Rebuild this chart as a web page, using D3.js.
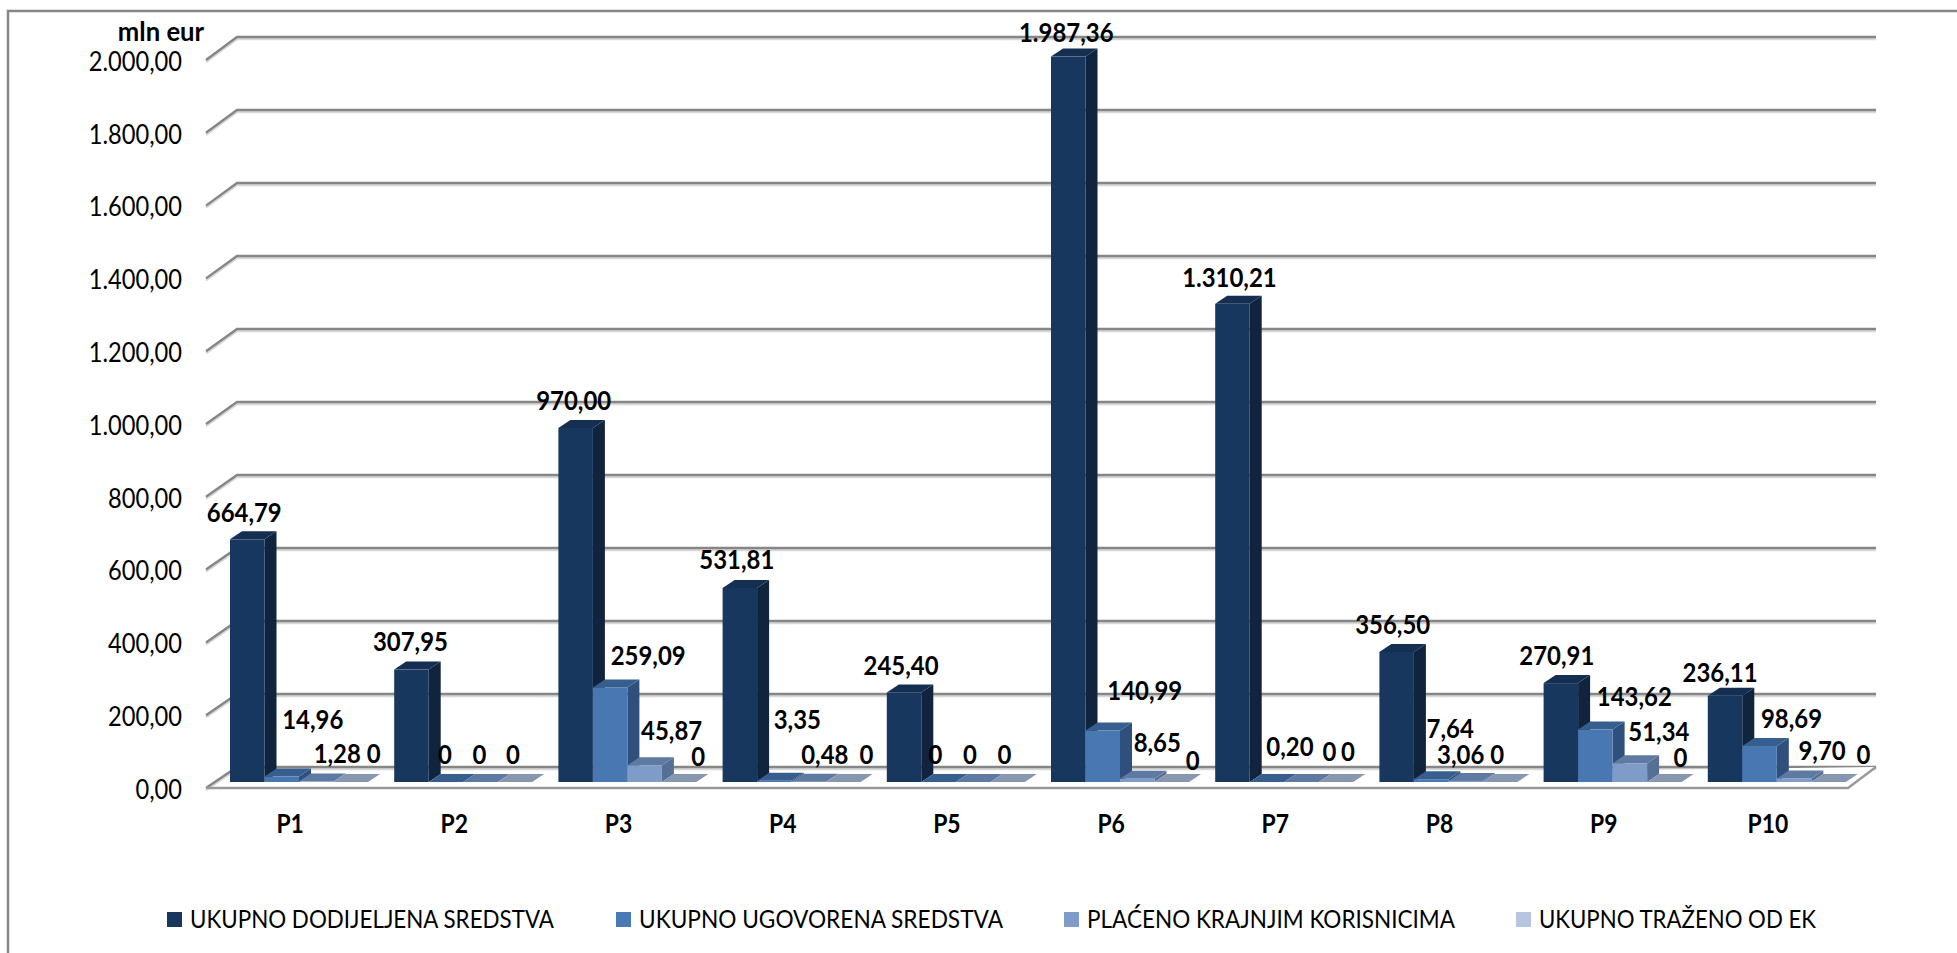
<!DOCTYPE html>
<html>
<head>
<meta charset="utf-8">
<script src="https://cdn.jsdelivr.net/npm/d3@7"></script>
<style>
body { margin: 0; background: #fff; }
text { font-family: Lato, "Noto Sans", sans-serif; fill: #000; }
.domain { display: none; }
</style>
</head>
<body>
<div id="chart"></div>
<script>
const categories = ["P1", "P2", "P3", "P4", "P5", "P6", "P7", "P8", "P9", "P10"];
const series = ["UKUPNO DODIJELJENA SREDSTVA", "UKUPNO UGOVORENA SREDSTVA", "PLAĆENO KRAJNJIM KORISNICIMA", "UKUPNO TRAŽENO OD EK"];
const dodijeljeno = [664.79, 307.95, 970.00, 531.81, 245.40, 1987.36, 1310.21, 356.50, 270.91, 236.11];
const ugovoreno = [14.96, 0, 259.09, 3.35, 0, 140.99, 0.20, 7.64, 143.62, 98.69];
const placeno = [1.28, 0, 45.87, 0.48, 0, 8.65, 0, 3.06, 51.34, 9.70];
const trazeno = [0, 0, 0, 0, 0, 0, 0, 0, 0, 0];
const yTicks = [0, 200, 400, 600, 800, 1000, 1200, 1400, 1600, 1800, 2000];

// front, side, top colours per series
const colors = [
    ["#17375e", "#10243e", "#142f52"],
    ["#4877b2", "#2f4f7c", "#365f8f"],
    ["#7f9cc9", "#566f94", "#5e7aa3"],
    ["#b7c5e0", "#7c8aa8", "#8897b0"]
];
const legendSwatch = ["#17375e", "#4a7ab5", "#7f9cc9", "#b7c5e0"];
const legendX = [167, 616, 1064, 1516];
const legendWidth = [364, 364, 368, 277];

// labels were placed by hand in the original, [dx, dy] from the default spot over each bar
const labelNudge = [
    [[-9, -6], [25, -37], [15, -8], [17, -8]],
    [[-7, -8], [-7, -7], [-7, -7], [-8, -7]],
    [[-8, -7], [32, -12], [21, -14], [13, -5]],
    [[-9, -8], [17, -41], [10, -7], [17, -7]],
    [[-9, -7], [-9, -7], [-9, -7], [-9, -7]],
    [[-8, -4], [36, -20], [14, -16], [15, -1]],
    [[-9, -6], [17, -15], [22, -10], [6, -10]],
    [[-10, -7], [13, -30], [-11, -6], [-9, -7]],
    [[-10, -7], [33, -13], [23, -11], [10, -4]],
    [[-11, -3], [26, -7], [22, -8], [29, -7]]
];

const width = 1957, height = 953;
const left = 206, right = 1848;
const wallDx = 30, wallDy = 22;
const barDx = 12, barDy = 8;

const values = [dodijeljeno, ugovoreno, placeno, trazeno];

let svg = d3.select("#chart")
    .append("svg")
    .attr("width", width)
    .attr("height", height)
    .style("display", "block");

let hr = d3.formatLocale({ decimal: ",", thousands: ".", grouping: [3], currency: ["", " EUR"] });
let fmt = hr.format(",.2f");

let x0 = d3.scaleBand().domain(categories).range([left, right]);
let x1 = d3.scaleBand().domain(d3.range(series.length)).range([24, 162]);
let yBar = d3.scaleLinear().domain([0, 2000]).range([782, 52]);
let yFront = d3.scaleLinear().domain([0, 2000]).range([788, 60]);
let yWall = d3.scaleLinear().domain([0, 2000]).range([767, 37]);

// the original font is narrower than Lato, so squeeze it a bit
function squeeze(sel, k) {
    sel.each(function() {
        d3.select(this)
            .attr("textLength", this.getComputedTextLength() * k)
            .attr("lengthAdjust", "spacingAndGlyphs");
    });
}

// outer frame
svg.append("path")
    .attr("d", `M${width},11H8V${height}`)
    .attr("fill", "none")
    .attr("stroke", "#868686")
    .attr("stroke-width", 2.5);

// walls
let grid = svg.append("g");
[["#d8d8d8", 2], ["#868686", 0]].forEach(function(st) {
    grid.append("g").selectAll("path").data(yTicks).enter()
        .append("path")
        .attr("d", d => `M${left},${yFront(d) + st[1]}L${left + wallDx + 1},${yWall(d) + st[1]}H${right + 28}`)
        .attr("fill", "none")
        .attr("stroke", st[0])
        .attr("stroke-width", 2.4);
});

// floor front edge
grid.append("path")
    .attr("d", `M${left},${yFront(0)}H${right}L${right + 28},${yWall(0)}`)
    .attr("fill", "#fff")
    .attr("stroke", "#9a9a9a")
    .attr("stroke-width", 2.5);

// bars
let barData = [];
categories.forEach(function(c, i) {
    values.forEach(function(v, s) {
        barData.push({ cat: c, i: i, s: s, value: v[i] });
    });
});

let bars = svg.append("g").selectAll("g").data(barData).enter().append("g");
let bw = x1.bandwidth();

bars.append("path")
    .attr("fill", d => colors[d.s][1])
    .attr("d", function(d) {
        let xr = x0(d.cat) + x1(d.s) + bw, yt = yBar(d.value), yb = yBar(0);
        return `M${xr},${yt}l${barDx},${-barDy}V${yb - barDy}L${xr},${yb}Z`;
    });
bars.append("path")
    .attr("fill", d => colors[d.s][2])
    .attr("d", function(d) {
        let xl = x0(d.cat) + x1(d.s), yt = yBar(d.value);
        return `M${xl},${yt}l${barDx},${-barDy}h${bw}l${-barDx},${barDy}Z`;
    });
bars.append("rect")
    .attr("x", d => x0(d.cat) + x1(d.s))
    .attr("y", d => yBar(d.value))
    .attr("width", bw)
    .attr("height", d => yBar(0) - yBar(d.value))
    .attr("fill", d => colors[d.s][0]);

// axes
let yAxis = svg.append("g")
    .attr("transform", "translate(182,2)")
    .call(d3.axisLeft(yFront).tickValues(yTicks).tickSize(0).tickPadding(0).tickFormat(fmt));
yAxis.selectAll("text").style("font-size", "26px").call(squeeze, 0.91);

let xAxis = svg.append("g")
    .attr("transform", "translate(2,815)")
    .call(d3.axisBottom(x0).tickSize(0).tickPadding(0));
xAxis.selectAll("text").style("font-size", "26px").style("font-weight", "bold").call(squeeze, 0.88);

svg.append("text")
    .attr("x", 161)
    .attr("y", 41)
    .attr("text-anchor", "middle")
    .style("font-size", "27px")
    .style("font-weight", "bold")
    .text("mln eur")
    .call(squeeze, 0.95);

// value labels
svg.append("g").selectAll("text").data(barData).enter()
    .append("text")
    .attr("x", d => x0(d.cat) + x1(d.s) + bw / 2 + barDx / 2 + labelNudge[d.i][d.s][0])
    .attr("y", d => yBar(d.value) - barDy - 12 + labelNudge[d.i][d.s][1])
    .attr("dy", "0.35em")
    .attr("text-anchor", "middle")
    .style("font-size", "26px")
    .style("font-weight", "bold")
    .text(d => d.value === 0 ? "0" : fmt(d.value))
    .call(squeeze, 0.92);

// legend
let legend = svg.append("g").selectAll("g").data(series).enter().append("g")
    .attr("transform", (d, i) => `translate(${legendX[i]},912)`);
legend.append("rect")
    .attr("width", 15)
    .attr("height", 15)
    .attr("fill", (d, i) => legendSwatch[i]);
legend.append("text")
    .attr("x", 23)
    .attr("y", 16)
    .attr("textLength", (d, i) => legendWidth[i])
    .attr("lengthAdjust", "spacingAndGlyphs")
    .style("font-size", "25px")
    .text(d => d);
</script>
</body>
</html>
